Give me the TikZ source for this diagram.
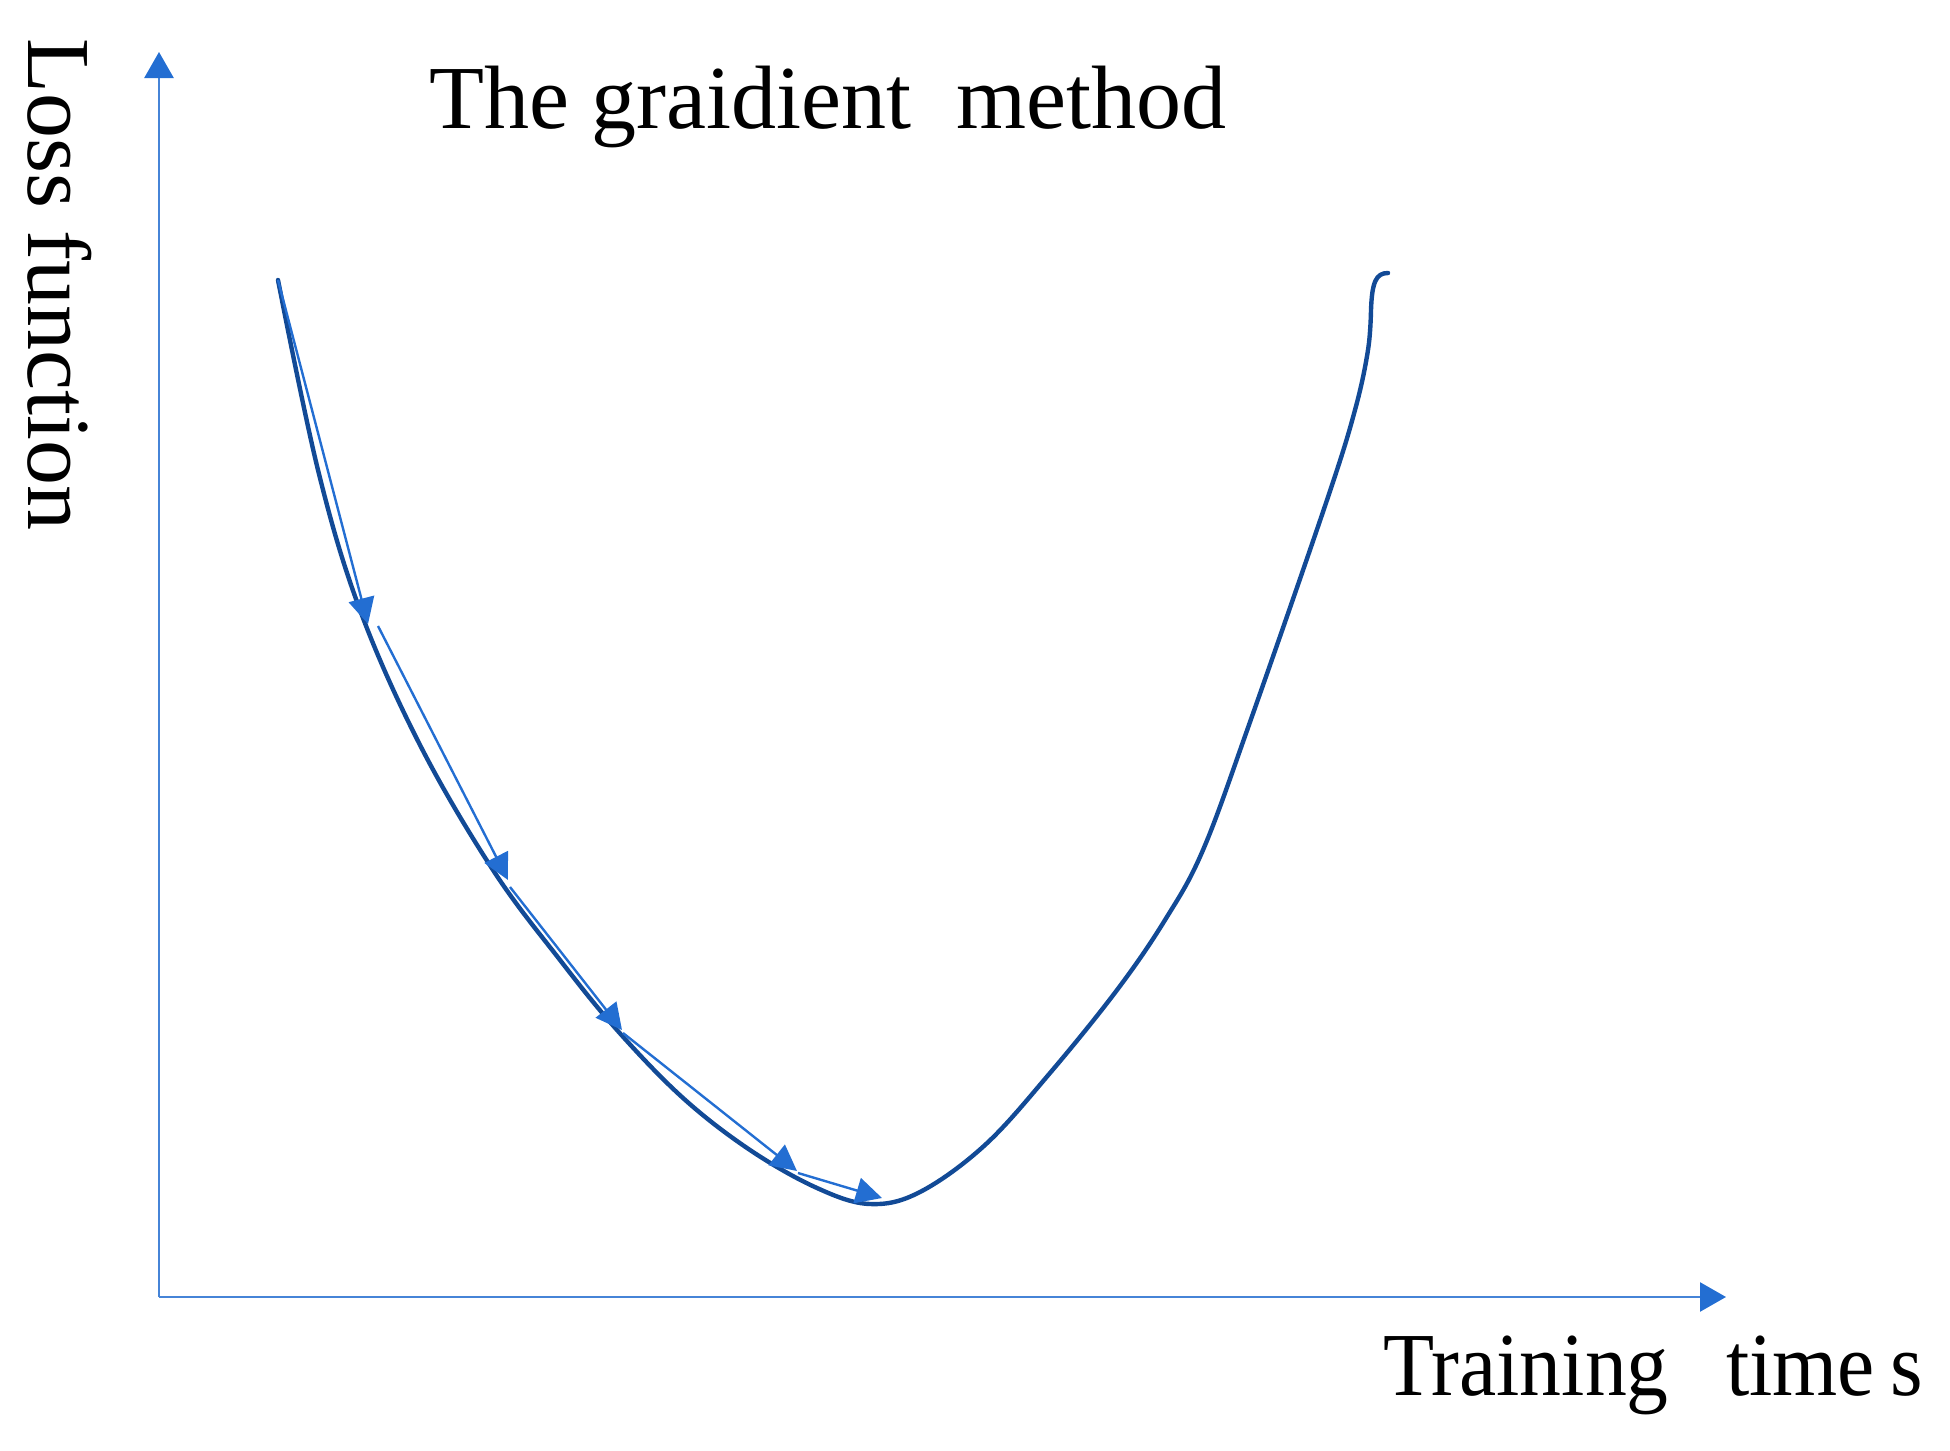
\documentclass[tikz,border=0pt]{standalone}
\usepackage{fontspec}
\setmainfont{Liberation Serif}
\usetikzlibrary{arrows.meta}
\definecolor{axisblue}{RGB}{70,132,215}
\definecolor{stepblue}{RGB}{35,110,210}
\definecolor{curveblue}{RGB}{18,74,150}
\begin{document}
\begin{tikzpicture}[x=0.5pt,y=-0.5pt,
  axisline/.style={draw=axisblue,line width=1.3pt,-{Triangle[length=13pt,width=14.5pt,fill=stepblue,color=stepblue]}},
  stepline/.style={draw=stepblue,line width=1.2pt,-{Triangle[length=13pt,width=13pt]}},
  lossline/.style={draw=curveblue,line width=2.2pt,line cap=round,line join=round},
  label/.style={inner sep=0pt,font=\fontsize{45}{54}\selectfont}]
\useasboundingbox (0,0) rectangle (1950,1451);
% axes
\coordinate (O) at (159,1297);
\coordinate (Ytip) at (159,52);
\coordinate (Xtip) at (1726,1297);
\draw[axisline] (O) -- (Ytip);
\draw[axisline] (O) -- (Xtip);
% labels
\node[label,anchor=base west] (title) at (429,128) {The graidient~ method};
\node[label,anchor=base west,rotate=-90] (ylab) at (28,38) {Loss function};
\node[label,anchor=base west] (xlab) at (1383,1395) {\scalebox{0.93}[1]{Training\hspace{31pt}time\hspace{8pt}s}};
% loss curve
\draw[lossline] plot[smooth,tension=0.6] coordinates {
 (278,280) (318,470) (360,610) (420,745) (493,870) (560,960) (617,1030)
 (683,1098) (750,1150) (817,1188) (870,1204) (920,1192) (985,1145)
 (1050,1073) (1117,990) (1165,920) (1203,850) (1250,722)
 (1327,500) (1355,410) (1368,350) (1371,310)}
 .. controls (1372,282) and (1376,273) .. (1388,273);
% gradient steps
\coordinate (s0) at (278,280);
\coordinate (t1) at (368,624);
\coordinate (s1) at (378,626);
\coordinate (t2) at (508,880);
\coordinate (s2) at (510,887);
\coordinate (t3) at (622,1030);
\coordinate (s3) at (623,1033);
\coordinate (t4) at (797,1171);
\coordinate (s4) at (798,1173);
\coordinate (t5) at (882,1198);
\draw[stepline] (s0) -- (t1);
\draw[stepline] (s1) -- (t2);
\draw[stepline] (s2) -- (t3);
\draw[stepline] (s3) -- (t4);
\draw[stepline] (s4) -- (t5);
\end{tikzpicture}
\end{document}
